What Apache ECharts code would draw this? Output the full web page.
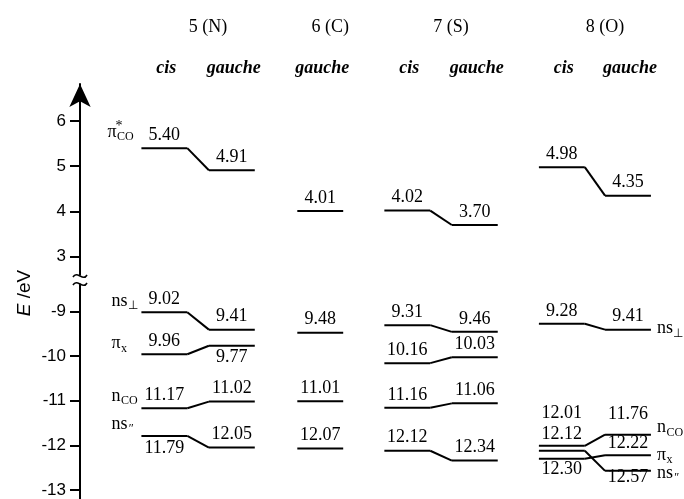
<!DOCTYPE html>
<html><head><meta charset="utf-8">
<script src="https://cdn.jsdelivr.net/npm/echarts@6/dist/echarts.min.js"></script>
<style>html,body{margin:0;padding:0;background:#fff}#c{width:684px;height:499px}</style>
</head><body><div id="c"></div>
<script>
// ---------------- data ----------------
const compounds = ['5 (N)', '6 (C)', '7 (S)', '8 (O)'];
const conformers = ['cis', 'gauche', 'gauche', 'cis', 'gauche', 'cis', 'gauche'];
const compoundOfColumn = [0, 0, 1, 2, 2, 3, 3];
// pi*CO levels (eV, plotted positive)
const piStarCO = [5.40, 4.91, 4.01, 4.02, 3.70, 4.98, 4.35];
// ionisation energies (eV, plotted as E = -IE)
const nsPerp = [9.02, 9.41, 9.48, 9.31, 9.46, 9.28, 9.41];
const piX    = [9.96, 9.77, null, 10.16, 10.03, 12.30, 12.22];
const nCO    = [11.17, 11.02, 11.01, 11.16, 11.06, 12.01, 11.76];
const nsPar  = [11.79, 12.05, 12.07, 12.12, 12.34, 12.12, 12.57];
const upperTicks = [3, 4, 5, 6];
const lowerTicks = [-13, -12, -11, -10, -9];
const conformerPairs = [[0, 1], [3, 4], [5, 6]];

// ---------------- layout ----------------
const colX = [0, 1, 2.31, 3.6, 4.6, 5.89, 6.87];
const HALF = 0.34;
const SERIF = '"Liberation Serif", "Times New Roman", serif';
const DEFAULT_DY = -13;
const labelDy = {
  'piX:1': 12, 'nsPar:0': 12,
  'nCO:5': -33, 'nsPar:5': -16, 'piX:5': 10,
  'nCO:6': -20, 'piX:6': -12, 'nsPar:6': 6
};
const upperRows = [
  { key: 'piStar', main: 'π', sup: '*', sub: 'CO', values: piStarCO, sign: 1, leftDy: -16, leftDx: -34 }
];
const lowerRows = [
  { key: 'nsPerp', main: 'ns', sub: '⊥', values: nsPerp, sign: -1, leftDy: -11, rightDy: -1 },
  { key: 'piX', main: 'π', sub: 'x', values: piX, sign: -1, leftDy: -10.5, rightDy: 0 },
  { key: 'nCO', main: 'n', sub: 'CO', values: nCO, sign: -1, leftDy: -12, rightDy: -7 },
  { key: 'nsPar', main: 'ns', sub: '″', values: nsPar, sign: -1, leftDy: -12, rightDy: 2 }
];

const mctx = document.createElement('canvas').getContext('2d');
function tw(t, font) { mctx.font = font; return mctx.measureText(t).width; }

function txt(x, y, text, font, align) {
  return { type: 'text', x: x, y: y, style: { text: text, font: font, fill: '#000',
    align: align, verticalAlign: 'middle', textAlign: align, textVerticalAlign: 'middle' } };
}

function buildLevels(rows) {
  const items = [];
  rows.forEach(r => r.values.forEach((v, c) => {
    if (v == null) return;
    const k = r.key + ':' + c;
    items.push({ x: colX[c], y: r.sign * v, text: v.toFixed(2), dy: (k in labelDy) ? labelDy[k] : DEFAULT_DY });
  }));
  return items;
}
function buildConnectors(rows) {
  const out = [];
  rows.forEach(r => conformerPairs.forEach(([a, b]) => {
    if (r.values[a] == null || r.values[b] == null) return;
    out.push([colX[a] + HALF, r.sign * r.values[a], colX[b] - HALF, r.sign * r.values[b]]);
  }));
  return out;
}
function buildOrbLabels(rows, withRight) {
  const out = [];
  rows.forEach(r => {
    out.push({ side: 'left', x: colX[0] - HALF, y: r.sign * r.values[0], row: r });
    if (withRight) out.push({ side: 'right', x: colX[6] + HALF, y: r.sign * r.values[6], row: r });
  });
  return out;
}

function levelSeries(items, gi) {
  return {
    type: 'custom', xAxisIndex: gi, yAxisIndex: gi, silent: true, clip: false,
    data: items.map(it => [it.x, it.y]),
    renderItem: function (params, api) {
      const it = items[params.dataIndex];
      const a = api.coord([api.value(0) - HALF, api.value(1)]);
      const b = api.coord([api.value(0) + HALF, api.value(1)]);
      return { type: 'group', children: [
        { type: 'line', shape: { x1: a[0], y1: a[1], x2: b[0], y2: b[1] }, style: { stroke: '#000', lineWidth: 2 } },
        txt((a[0] + b[0]) / 2, a[1] + it.dy, it.text, '18px ' + SERIF, 'center')
      ] };
    }
  };
}
function connectorSeries(conns, gi) {
  return {
    type: 'custom', xAxisIndex: gi, yAxisIndex: gi, silent: true, clip: false,
    data: conns,
    renderItem: function (params, api) {
      const a = api.coord([api.value(0), api.value(1)]);
      const b = api.coord([api.value(2), api.value(3)]);
      return { type: 'line', shape: { x1: a[0], y1: a[1], x2: b[0], y2: b[1] }, style: { stroke: '#000', lineWidth: 2 } };
    }
  };
}
function orbSeries(labels, gi) {
  return {
    type: 'custom', xAxisIndex: gi, yAxisIndex: gi, silent: true, clip: false,
    data: labels.map(l => [l.x, l.y]),
    renderItem: function (params, api) {
      const l = labels[params.dataIndex];
      const p = api.coord([api.value(0), api.value(1)]);
      const r = l.row;
      const fMain = '18px ' + SERIF, fSub = '12px ' + SERIF;
      let x0, y0;
      if (l.side === 'left') { x0 = p[0] + (r.leftDx || -30); y0 = p[1] + r.leftDy; }
      else { x0 = p[0] + 6; y0 = p[1] + r.rightDy; }
      const w = tw(r.main, fMain);
      const ch = [txt(x0, y0, r.main, fMain, 'left')];
      if (r.sub) ch.push(txt(x0 + w + 0.5, y0 + 5, r.sub, (r.sub === '″' ? 'italic ' : '') + fSub, 'left'));
      if (r.sup) ch.push(txt(x0 + w - 1, y0 - 6, r.sup, '14px ' + SERIF, 'left'));
      return { type: 'group', children: ch };
    }
  };
}
function headerSeries() {
  const mids = compounds.map((_, k) => {
    const cs = colX.filter((x, c) => compoundOfColumn[c] === k);
    return [(cs[0] + cs[cs.length - 1]) / 2, 6];
  });
  return {
    type: 'custom', xAxisIndex: 0, yAxisIndex: 0, silent: true, clip: false,
    data: mids,
    renderItem: function (params, api) {
      const p = api.coord([api.value(0), api.value(1)]);
      return txt(p[0] + 10, 27, compounds[params.dataIndex], '18px ' + SERIF, 'center');
    }
  };
}
function conformerSeries() {
  return {
    type: 'custom', xAxisIndex: 0, yAxisIndex: 0, silent: true, clip: false,
    data: colX.map(x => [x, 6]),
    renderItem: function (params, api) {
      const p = api.coord([api.value(0), api.value(1)]);
      return txt(p[0] + 2, 68, conformers[params.dataIndex], 'italic bold 18px ' + SERIF, 'center');
    }
  };
}

function yAxisCfg(gi, min, max, ticks, arrow) {
  return {
    gridIndex: gi, type: 'value', min: min, max: max, position: 'left',
    axisLine: { show: true, onZero: false, symbol: arrow ? ['none', 'arrow'] : ['none', 'none'],
      symbolSize: [16, 23], lineStyle: { color: '#000', width: 2 } },
    axisTick: { show: true, inside: false, length: 10, customValues: ticks, lineStyle: { color: '#000', width: 2 } },
    axisLabel: { show: true, customValues: ticks, fontSize: 17, fontFamily: 'Liberation Sans', color: '#000', margin: 14 },
    splitLine: { show: false }
  };
}

const chart = echarts.init(document.getElementById('c'), null, { renderer: 'canvas' });
chart.setOption({
  animation: false,
  backgroundColor: '#fff',
  grid: [
    { left: 80, right: 0, top: 84, height: 190.8, outerBoundsMode: 'none', containLabel: false },
    { left: 80, right: 0, top: 284.5, height: 214.5, outerBoundsMode: 'none', containLabel: false }
  ],
  xAxis: [
    { gridIndex: 0, type: 'value', min: -1.25, max: 7.7, show: false },
    { gridIndex: 1, type: 'value', min: -1.25, max: 7.7, show: false }
  ],
  yAxis: [
    yAxisCfg(0, 2.6, 6.818, upperTicks, true),
    yAxisCfg(1, -13.2, -8.4, lowerTicks, false)
  ],
  graphic: [
    { type: 'bezierCurve', z: 100, shape: { x1: 73, y1: 277, cpx1: 77, cpy1: 270, cpx2: 83, cpy2: 282, x2: 87, y2: 275 },
      style: { stroke: '#000', lineWidth: 1.6, fill: 'none' } },
    { type: 'bezierCurve', z: 100, shape: { x1: 73, y1: 285, cpx1: 77, cpy1: 278, cpx2: 83, cpy2: 290, x2: 87, y2: 283 },
      style: { stroke: '#000', lineWidth: 1.6, fill: 'none' } },
    { type: 'text', x: 25, y: 293, rotation: Math.PI / 2,
      style: { text: '{i|E}{n| /eV}', align: 'center', verticalAlign: 'middle', fill: '#000',
        rich: { i: { fontStyle: 'italic', fontSize: 19, fontFamily: 'Liberation Sans' },
                n: { fontSize: 19, fontFamily: 'Liberation Sans' } } } }
  ],
  series: [
    connectorSeries(buildConnectors(upperRows), 0),
    levelSeries(buildLevels(upperRows), 0),
    orbSeries(buildOrbLabels(upperRows, false), 0),
    connectorSeries(buildConnectors(lowerRows), 1),
    levelSeries(buildLevels(lowerRows), 1),
    orbSeries(buildOrbLabels(lowerRows, true), 1),
    headerSeries(),
    conformerSeries()
  ]
});
</script></body></html>
